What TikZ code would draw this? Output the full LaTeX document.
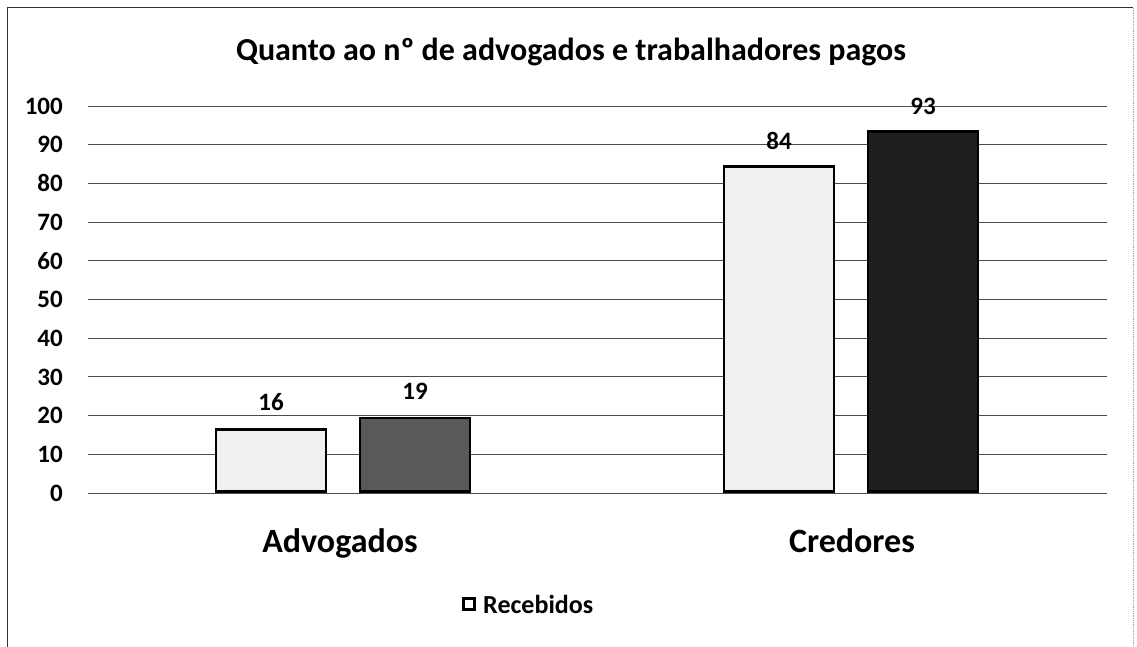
\documentclass[tikz,border=0pt]{standalone}
\usepackage{fontspec}
\setmainfont{Carlito}
\usetikzlibrary{positioning}

\begin{document}
\begin{tikzpicture}[x=1pt,y=-1pt,
  gridline/.style={draw=black!70, line width=0.9pt},
  barbox/.style={draw=black, line width=2.6pt, minimum width=110pt, inner sep=0pt, anchor=south},
  lightbar/.style={barbox, fill=black!6},
  darkbar/.style={barbox, fill=black!75},
  vallabel/.style={font=\bfseries\fontsize{25}{25}\selectfont, inner sep=1pt},
  ticklabel/.style={font=\bfseries\fontsize{25}{25}\selectfont, anchor=east, inner sep=0pt},
  catlabel/.style={font=\bfseries\fontsize{34}{34}\selectfont}]
  \useasboundingbox (0,0) rectangle (1137,647);
  % frame
  \draw[black!80, line width=1pt] (7,647) -- (7,8) -- (1133,8);
  \draw[black!35, line width=0.8pt, densely dotted] (1133,8) -- (1133,647);
  \node[font=\bfseries\fontsize{32}{32}\selectfont] (title) at (571,52) {Quanto ao nº de advogados e trabalhadores pagos};
  % grid and axis
  \foreach \v in {0,10,...,100} {
    \coordinate (g\v) at (88,{493-3.87*\v});
    \node[ticklabel] (t\v) at (63,{493-3.87*\v}) {\v};
    \draw[gridline] (g\v) -- ++(1019,0);
  }
  % bars
  \node[lightbar, minimum height=3.87*16] (adv1) at (271,493) {};
  \node[darkbar, fill=black!65, minimum height=3.87*19] (adv2) at (415,493) {};
  \node[lightbar, minimum height=3.87*84] (cre1) at (779,493) {};
  \node[darkbar, fill=black!88, minimum height=3.87*93] (cre2) at (923,493) {};
  \node[vallabel, above=17pt of adv1] (v1) {16};
  \node[vallabel, above=16pt of adv2] (v2) {19};
  \node[vallabel, above=14pt of cre1] (v3) {84};
  \node[vallabel, above=15pt of cre2] (v4) {93};
  % categories
  \node[catlabel] (adv) at (340,543) {Advogados};
  \node[catlabel] (cre) at (852,541) {Credores};
  % legend
  \node[draw=black, line width=2.4pt, fill=white, minimum size=11pt, inner sep=0pt] (key) at (469,604) {};
  \node[font=\bfseries\fontsize{26}{26}\selectfont, right=4pt of key] (keytext) {Recebidos};
\end{tikzpicture}
\end{document}
